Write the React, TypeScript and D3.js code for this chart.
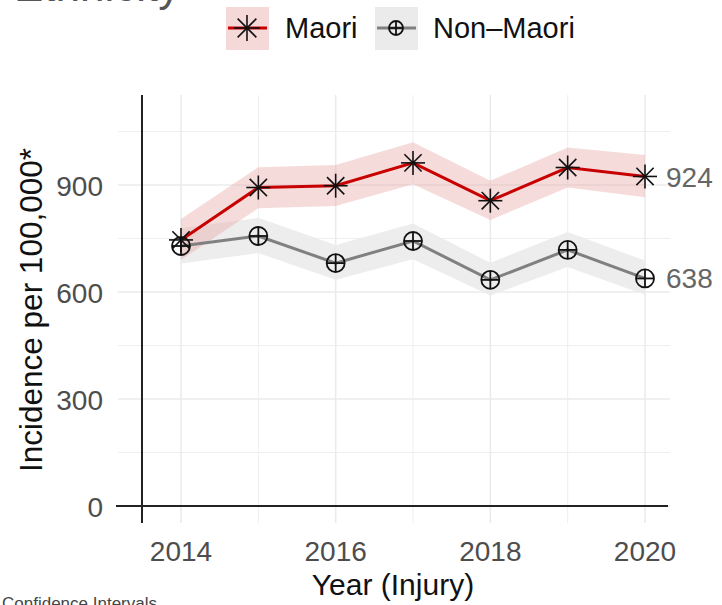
import * as d3 from 'd3';

const years = [2014, 2015, 2016, 2017, 2018, 2019, 2020];
const maori = [746, 893, 898, 962, 856, 949, 924];
const maoriLo = [690, 835, 841, 902, 802, 893, 866];
const maoriHi = [805, 950, 956, 1020, 912, 1005, 984];
const nonMaori = [729, 757, 681, 743, 634, 718, 638];
const nonMaoriLo = [680, 709, 634, 692, 590, 670, 592];
const nonMaoriHi = [779, 808, 732, 792, 682, 768, 688];
const yTicks = [0, 300, 600, 900];
const yMinor = [150, 450, 750, 1050];
const xTicks = [2014, 2016, 2018, 2020];
const xMinor = [2015, 2017, 2019];

const FONT = '"Liberation Sans", Arial, Helvetica, sans-serif';
const RED = '#c80000';
const GREY = '#808080';

const Asterisk = ({ x, y, r = 12 }: { x: number; y: number; r?: number }) => {
  const d = r * 0.72;
  return (
    <g stroke="#111" strokeWidth={1.6}>
      <line x1={x - r} x2={x + r} y1={y} y2={y} />
      <line x1={x} x2={x} y1={y - r} y2={y + r} />
      <line x1={x - d} x2={x + d} y1={y - d} y2={y + d} />
      <line x1={x - d} x2={x + d} y1={y + d} y2={y - d} />
    </g>
  );
};

const CirclePlus = ({ x, y, r = 9 }: { x: number; y: number; r?: number }) => (
  <g stroke="#111" strokeWidth={1.8} fill="none">
    <circle cx={x} cy={y} r={r} />
    <line x1={x - r} x2={x + r} y1={y} y2={y} />
    <line x1={x} x2={x} y1={y - r} y2={y + r} />
  </g>
);

export default function App() {
  const x = d3.scaleLinear().domain([2014, 2020]).range([181, 645]);
  const y = d3.scaleLinear().domain([0, 900]).range([506, 185]);
  const panelLeft = 118, panelRight = 670, panelTop = 95, panelBottom = 523;

  const line = d3.line<number>().x((_, i) => x(years[i])).y(v => y(v));
  const band = (lo: number[], hi: number[]) =>
    d3.area<number>()
      .x((_, i) => x(years[i]))
      .y0((_, i) => y(lo[i]))
      .y1((_, i) => y(hi[i]))(years) || '';

  const last = years.length - 1;

  return (
    <svg width={722} height={605} style={{ position: 'absolute', left: 0, top: 0, background: '#fff' }} fontFamily={FONT}>
      {/* title, cut off at the top */}
      <text x={14} y={1} fontSize={44} fill="#555">Ethnicity</text>

      {/* legend */}
      <g>
        <rect x={226} y={7} width={43} height={43} fill="#f5d9d9" />
        <line x1={228} x2={267} y1={28} y2={28} stroke={RED} strokeWidth={3} />
        <Asterisk x={247} y={28} r={13} />
        <text x={285} y={38} fontSize={29} fill="#111">Maori</text>
        <rect x={375} y={7} width={43} height={43} fill="#ebebeb" />
        <line x1={377} x2={416} y1={28} y2={28} stroke={GREY} strokeWidth={3} />
        <CirclePlus x={396} y={28} r={7} />
        <text x={433} y={38} fontSize={29} fill="#111">Non–Maori</text>
      </g>

      {/* grid */}
      <g stroke="#ebebeb">
        {yMinor.map(v => (
          <line key={'ym' + v} x1={panelLeft} x2={panelRight} y1={y(v)} y2={y(v)} strokeWidth={0.8} />
        ))}
        {xMinor.map(v => (
          <line key={'xm' + v} x1={x(v)} x2={x(v)} y1={panelTop} y2={panelBottom} strokeWidth={0.8} />
        ))}
        {yTicks.map(v => (
          <line key={'y' + v} x1={panelLeft} x2={panelRight} y1={y(v)} y2={y(v)} strokeWidth={1.6} />
        ))}
        {xTicks.map(v => (
          <line key={'x' + v} x1={x(v)} x2={x(v)} y1={panelTop} y2={panelBottom} strokeWidth={1.6} />
        ))}
      </g>

      {/* axis lines */}
      <line x1={142} x2={142} y1={panelTop} y2={panelBottom} stroke="#222" strokeWidth={2} />
      <line x1={panelLeft - 2} x2={panelRight - 2} y1={y(0)} y2={y(0)} stroke="#222" strokeWidth={2} />

      {/* confidence bands */}
      <path d={band(nonMaoriLo, nonMaoriHi)} fill="#ebebeb" fillOpacity={0.9} />
      <path d={band(maoriLo, maoriHi)} fill="#e9a6a6" fillOpacity={0.4} />

      {/* lines */}
      <path d={line(nonMaori) || ''} fill="none" stroke={GREY} strokeWidth={3} />
      <path d={line(maori) || ''} fill="none" stroke={RED} strokeWidth={3} />

      {/* points */}
      {nonMaori.map((v, i) => <CirclePlus key={'n' + i} x={x(years[i])} y={y(v)} />)}
      {maori.map((v, i) => <Asterisk key={'m' + i} x={x(years[i])} y={y(v)} />)}

      {/* end labels */}
      <text x={x(years[last]) + 21} y={y(maori[last]) + 11} fontSize={28} fill="#666">{maori[last]}</text>
      <text x={x(years[last]) + 21} y={y(nonMaori[last]) + 10} fontSize={28} fill="#666">{nonMaori[last]}</text>

      {/* y tick labels */}
      {yTicks.map(v => (
        <text key={'yl' + v} x={103} y={y(v) + 11} fontSize={28} fill="#4d4d4d" textAnchor="end">{v}</text>
      ))}
      {/* x tick labels */}
      {xTicks.map(v => (
        <text key={'xl' + v} x={x(v)} y={561} fontSize={28} fill="#4d4d4d" textAnchor="middle">{v}</text>
      ))}

      {/* axis titles */}
      <text x={393} y={595} fontSize={30} fill="#111" textAnchor="middle">Year (Injury)</text>
      <text transform="translate(42,310) rotate(-90)" fontSize={31.5} fill="#111" textAnchor="middle">Incidence per 100,000*</text>

      {/* caption, cut off at the bottom */}
      <text x={2} y={609} fontSize={17} fill="#444">Confidence Intervals</text>
    </svg>
  );
}
